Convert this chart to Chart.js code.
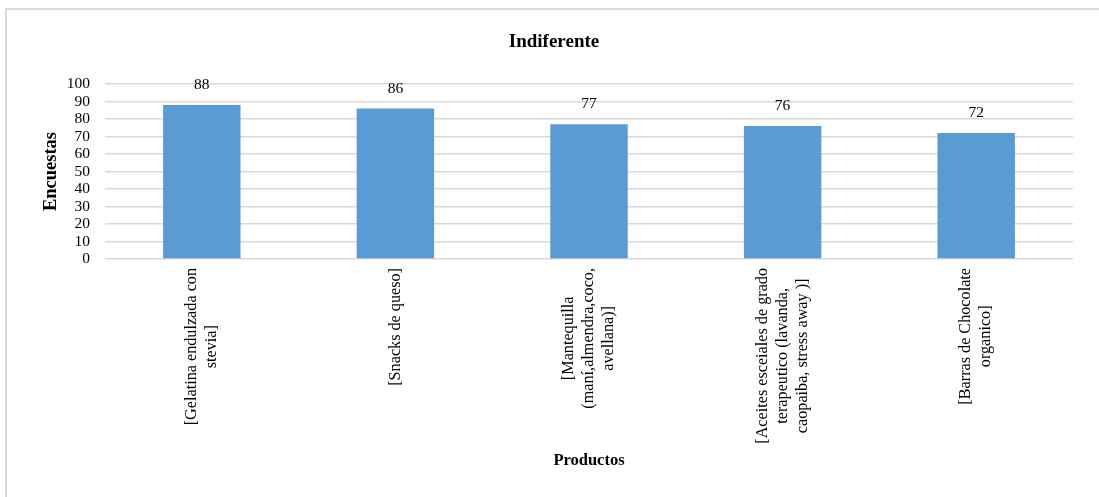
<!DOCTYPE html>
<html>
<head>
<meta charset="utf-8">
<title>Indiferente</title>
<script src="https://cdn.jsdelivr.net/npm/chart.js@4"></script>
<style>
  html, body { margin: 0; padding: 0; background: #fff; }
  #wrap { width: 1099px; height: 497px; position: relative; }
</style>
</head>
<body>
<div id="wrap"><canvas id="indiferenteChart"></canvas></div>
<script>
const SERIF = "'Liberation Serif', 'Times New Roman', serif";

// categories (one entry per wrapped line) and survey counts
const productos = [
  ['[Gelatina endulzada con', 'stevia]'],
  ['[Snacks de queso]'],
  ['[Mantequilla', '(maní,almendra,coco,', 'avellana)]'],
  ['[Aceites esceiales de grado', 'terapeutico (lavanda,', 'caopaiba, stress away )]'],
  ['[Barras de Chocolate', 'organico]']
];
const encuestas = [88, 86, 77, 76, 72];
const yTicks = { min: 0, max: 100, step: 10 };

// light frame around the chart
const framePlugin = {
  id: 'frame',
  beforeDraw(chart) {
    const c = chart.ctx;
    c.save();
    c.fillStyle = '#fff';
    c.fillRect(0, 0, chart.width, chart.height);
    c.strokeStyle = '#d9d9d9';
    c.lineWidth = 2;
    c.strokeRect(6, 9, chart.width + 50, chart.height + 50);
    c.restore();
  }
};

// value above each bar
const valueLabels = {
  id: 'valueLabels',
  afterDatasetsDraw(chart) {
    const c = chart.ctx;
    const meta = chart.getDatasetMeta(0);
    c.save();
    c.font = '15.5px ' + SERIF;
    c.fillStyle = '#000';
    c.textAlign = 'center';
    c.textBaseline = 'middle';
    meta.data.forEach((bar, i) => {
      c.fillText(String(chart.data.datasets[0].data[i]), bar.x, bar.y - 20);
    });
    c.restore();
  }
};

// vertical category labels: wrapped lines side by side, each centred in the block
const categoryLabels = {
  id: 'categoryLabels',
  afterDraw(chart) {
    const c = chart.ctx;
    const xs = chart.scales.x;
    const top = xs.top + 9;
    const lineH = 20;
    c.save();
    c.font = '16.2px ' + SERIF;
    c.fillStyle = '#000';
    c.textAlign = 'center';
    c.textBaseline = 'middle';
    productos.forEach((lines, i) => {
      const cx = xs.getPixelForValue(i);
      const blockW = Math.max(...lines.map(l => c.measureText(l).width));
      lines.forEach((line, j) => {
        const dx = (j - (lines.length - 1) / 2) * lineH;
        c.save();
        c.translate(cx + dx, top);
        c.rotate(-Math.PI / 2);
        c.fillText(line, -blockW / 2, 0);
        c.restore();
      });
    });
    c.restore();
  }
};

new Chart(document.getElementById('indiferenteChart'), {
  type: 'bar',
  data: {
    labels: productos,
    datasets: [{
      data: encuestas,
      backgroundColor: '#5b9bd5',
      borderWidth: 0,
      categoryPercentage: 1,
      barPercentage: 0.4
    }]
  },
  options: {
    responsive: true,
    maintainAspectRatio: false,
    animation: false,
    layout: { padding: { left: 35, right: 26, top: 0, bottom: 0 } },
    plugins: {
      legend: { display: false },
      tooltip: { enabled: false },
      title: {
        display: true,
        text: 'Indiferente',
        color: '#000',
        font: { family: SERIF, size: 19, weight: 'bold', lineHeight: 1.2 },
        padding: { top: 31, bottom: 30.2 }
      }
    },
    scales: {
      x: {
        grid: { display: false },
        border: { display: false },
        ticks: { display: false },
        title: {
          display: true,
          text: 'Productos',
          color: '#000',
          font: { family: SERIF, size: 16.5, weight: 'bold', lineHeight: 1.2 },
          padding: { top: 0, bottom: 26.1 }
        },
        afterFit(scale) { scale.height = 238; }
      },
      y: {
        min: yTicks.min,
        max: yTicks.max,
        grid: { color: '#d9d9d9', lineWidth: 1.5, drawTicks: false },
        border: { display: false },
        ticks: {
          stepSize: yTicks.step,
          autoSkip: false,
          padding: 15,
          color: '#000',
          font: { family: SERIF, size: 15.5 }
        },
        title: {
          display: true,
          text: 'Encuestas',
          color: '#000',
          font: { family: SERIF, size: 18.5, weight: 'bold', lineHeight: 1.2 },
          padding: { top: 5, bottom: 0 }
        },
        afterFit(scale) { scale.width = 70; }
      }
    }
  },
  plugins: [framePlugin, valueLabels, categoryLabels]
});
</script>
</body>
</html>
